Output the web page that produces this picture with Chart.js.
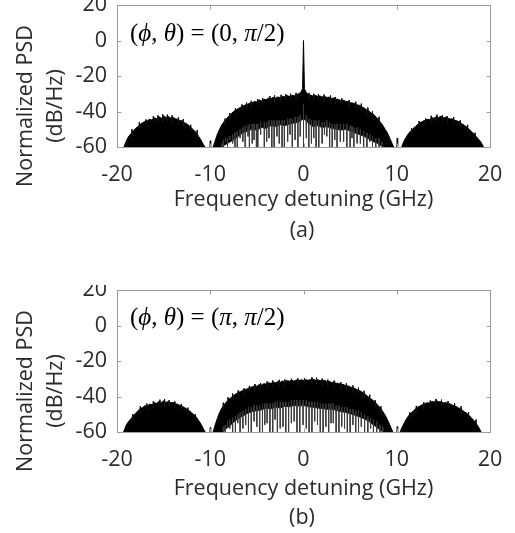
<!DOCTYPE html>
<html>
<head>
<meta charset="utf-8">
<script src="https://cdn.jsdelivr.net/npm/chart.js@4.4.0/dist/chart.umd.min.js"></script>
<style>
    html, body { margin: 0; padding: 0; background: #fff; overflow: hidden; }
    .panel { position: absolute; left: 0; width: 515px; }
    #wrapA { top: 0; height: 260px; }
    #wrapB { top: 285px; height: 260px; }
</style>
</head>
<body>
<div class="panel" id="wrapA"><canvas id="chartA" width="515" height="260"></canvas></div>
<div class="panel" id="wrapB"><canvas id="chartB" width="515" height="260"></canvas></div>
<script>
// axis ticks
const xTicks = [-20, -10, 0, 10, 20];
const yTicks = [-60, -40, -20, 0, 20];

// panel (a): upper envelope of the PSD (GHz, dB/Hz)
const freqA = [
    -19.5, -19.25, -19, -18.75, -18.5, -18.25, -18, -17.75, -17.5, -17.25,
    -17, -16.75, -16.5, -16.25, -16, -15.75, -15.5, -15.25, -15, -14.75,
    -14.5, -14.25, -14, -13.75, -13.5, -13.25, -13, -12.75, -12.5, -12.25,
    -12, -11.75, -11.5, -11.25, -11, -10.75, -10.5, -10.25, -10.05, -10,
    -9.95, -9.75, -9.5, -9.25, -9, -8.75, -8.5, -8.25, -8, -7.75,
    -7.5, -7.25, -7, -6.75, -6.5, -6.25, -6, -5.75, -5.5, -5.25,
    -5, -4.75, -4.5, -4.25, -4, -3.75, -3.5, -3.25, -3, -2.75,
    -2.5, -2.25, -2, -1.75, -1.5, -1.25, -1, -0.75, -0.5, -0.25,
    -0.1, 0, 0.1, 0.25, 0.5, 0.75, 1, 1.25, 1.5, 1.75,
    2, 2.25, 2.5, 2.75, 3, 3.25, 3.5, 3.75, 4, 4.25,
    4.5, 4.75, 5, 5.25, 5.5, 5.75, 6, 6.25, 6.5, 6.75,
    7, 7.25, 7.5, 7.75, 8, 8.25, 8.5, 8.75, 9, 9.25,
    9.5, 9.75, 10, 10.05, 10.1, 10.5, 10.75, 11, 11.25, 11.5,
    11.75, 12, 12.25, 12.5, 12.75, 13, 13.25, 13.5, 13.75, 14,
    14.25, 14.5, 14.75, 15, 15.25, 15.5, 15.75, 16, 16.25, 16.5,
    16.75, 17, 17.25, 17.5, 17.75, 18, 18.25, 18.5, 18.75, 19,
    19.25, 19.5
];
const psdA = [
    -62, -60, -56.5, -54, -52.5, -51, -49.5, -48.5, -47.2, -46.3,
    -45.6, -45.2, -44.4, -44.8, -43.6, -44, -43, -43.8, -42.5, -43.4,
    -42.8, -43.6, -43.2, -44.1, -44.3, -45.1, -45.3, -46.3, -47, -48,
    -49.4, -50.6, -52, -54, -56, -58.5, -60.5, -62, -62, -56.5,
    -62, -61, -57, -53, -50, -47.5, -45.6, -44, -42.6, -41.2,
    -40, -39.2, -38.4, -37.6, -37, -36.3, -36, -35.2, -35, -34.4,
    -34.6, -33.6, -33.9, -33, -33.4, -32.4, -32.8, -32, -32.5, -31.8,
    -32.2, -31.4, -31.8, -31, -31.6, -30.8, -31.2, -30.5, -30, -29,
    -27, 0, -27, -29, -30.4, -30.8, -31.2, -30.9, -31.5, -31.2,
    -31.8, -31.4, -32.1, -31.9, -32.6, -32.4, -33, -33.2, -33.8, -33.6,
    -34.2, -34.4, -35, -35.2, -35.5, -36.3, -36.5, -37.4, -38, -39,
    -39.6, -40.8, -41.5, -43, -44.5, -46, -47.8, -50, -52, -55,
    -58, -61, -62, -55, -62, -60.5, -57, -54.5, -52.5, -51,
    -49.6, -48.5, -47.3, -46.4, -45.6, -45, -44.4, -44.6, -43.5, -43.8,
    -42.8, -43.4, -42.6, -43.5, -43.2, -43.8, -44.2, -44.2, -45, -45.4,
    -46, -47, -47.8, -48.8, -50, -51.2, -52.5, -54, -55.5, -57,
    -59.5, -62
];
// panel (a): narrow noise peaks poking above the envelope
const peakFreqA = [
    -18.4, -17.6, -16.9, -16.1, -15.6, -15.1, -14.6, -14.1, -13.4, -12.9, -12.1, -11.4,
    -8.4, -7.9, -7.3, -6.6, -6.1, -5.6, -4.9, -4.4, -3.6, -3.1, -2.4, -1.9, -1.4, -0.8,
    0.6, 1.1, 1.6, 2.2, 2.9, 3.4, 4.1, 4.9, 5.6, 6.2, 6.9, 7.4, 8.1,
    11.6, 12.4, 13.1, 13.7, 14.3, 14.9, 15.4, 16.1, 16.8, 17.6, 18.4
];
const peakA = [
    -50, -46, -44.5, -42.6, -42.2, -41.6, -41.8, -42.2, -43.3, -44.4, -47.5, -50.5,
    -44, -41, -38.2, -36, -35, -34, -33, -32.4, -31.4, -31, -30.6, -30.2, -30, -29.5,
    -29.5, -30, -30.3, -30.5, -31, -31.8, -32.6, -33.6, -34.5, -35.6, -37.8, -39.8, -43,
    -49.5, -45.4, -44, -42.4, -41.8, -42, -42.6, -43.2, -45, -47.5, -52
];
// panel (a): lower edge of the dense part under the main lobe
const holeFreqA = [-8.9, -8.5, -8, -7.5, -7, -6.5, -6, -5.5, -5, -4.5, -4, -3.5, -3, -2.5, -2, -1.5, -1, -0.5, 0,
    0.5, 1, 1.5, 2, 2.5, 3, 3.5, 4, 4.5, 5, 5.5, 6, 6.5, 7, 7.5, 8, 8.5, 8.8];
const holeA = [-62, -59, -57.5, -56, -54, -52, -51, -50, -50.5, -49, -49.5, -48, -48.5, -47.5, -48, -47, -46.5, -46, -44,
    -46.5, -48.5, -48, -49, -48.5, -49.5, -50, -50.5, -50, -51, -52, -53, -54, -55.5, -57, -58, -60, -62];
// panel (a): deep notches reaching into the white area
const spikeFreqA = [
    -8.75, -8.6, -8.35, -8.15, -7.9, -7.6, -7.35, -7.1, -6.8, -6.5,
    -6.25, -5.95, -5.8, -5.5, -5.3, -5.05, -4.9, -4.6, -4.2, -3.95,
    -3.7, -3.4, -3.15, -2.85, -2.6, -2.3, -2.05, -1.7, -1.45, -1.2,
    -0.9, -0.6, -0.35, 0, 0.3, 0.57, 0.85, 1.1, 1.35, 1.64,
    2.0, 2.25, 2.5, 2.8, 3.08, 3.35, 3.6, 3.95, 4.3, 4.65,
    5.0, 5.2, 5.4, 5.75, 6.1, 6.45, 6.8, 7.1, 7.4, 7.75,
    8.1, 8.4
];
const spikeLowA = [
    -61, -61, -57, -61, -56, -58, -61, -61, -55, -57,
    -61, -54, -61, -58, -56, -61, -61, -53, -61, -57,
    -55, -61, -61, -54, -58, -61, -61, -57, -53, -61,
    -56, -61, -54, -61, -55, -61, -58, -55, -61, -61,
    -58, -53, -54, -61, -61, -56, -61, -57, -57, -61,
    -61, -55, -61, -58, -58, -61, -61, -57, -61, -61,
    -61, -59
];
const spikeTopA = [
    -58, -56, -55, -55, -54, -53, -52, -51, -50, -49,
    -48, -48, -47, -47, -47, -47, -47, -46, -46, -46,
    -45, -45, -45, -45, -45, -45, -45, -44, -44, -44,
    -43, -43, -42, -36, -42, -44, -45, -45, -45, -45,
    -46, -46, -45, -46, -47, -47, -47, -47, -47, -47,
    -48, -48, -49, -49, -50, -51, -52, -53, -54, -55,
    -55, -57
];

// panel (b): upper envelope of the PSD
const freqB = [
    -19.5, -19.25, -19, -18.75, -18.5, -18.25, -18, -17.75, -17.5, -17.25,
    -17, -16.75, -16.5, -16.25, -16, -15.75, -15.5, -15.25, -15, -14.75,
    -14.5, -14.25, -14, -13.75, -13.5, -13.25, -13, -12.75, -12.5, -12.25,
    -12, -11.75, -11.5, -11.25, -11, -10.75, -10.5, -10.25, -10.05, -10,
    -9.95, -9.75, -9.5, -9.25, -9, -8.75, -8.5, -8.25, -8, -7.75,
    -7.5, -7.25, -7, -6.75, -6.5, -6.25, -6, -5.75, -5.5, -5.25,
    -5, -4.75, -4.5, -4.25, -4, -3.75, -3.5, -3.25, -3, -2.75,
    -2.5, -2.25, -2, -1.75, -1.5, -1.25, -1, -0.75, -0.5, -0.25,
    0, 0.25, 0.5, 0.75, 1, 1.25, 1.5, 1.75, 2, 2.25,
    2.5, 2.75, 3, 3.25, 3.5, 3.75, 4, 4.25, 4.5, 4.75,
    5, 5.25, 5.5, 5.75, 6, 6.25, 6.5, 6.75, 7, 7.25,
    7.5, 7.75, 8, 8.25, 8.5, 8.75, 9, 9.25, 9.5, 9.75,
    10, 10.05, 10.1, 10.35, 10.5, 10.75, 11, 11.25, 11.5, 11.75,
    12, 12.25, 12.5, 12.75, 13, 13.25, 13.5, 13.75, 14, 14.25,
    14.5, 14.75, 15, 15.25, 15.5, 15.75, 16, 16.25, 16.5, 16.75,
    17, 17.25, 17.5, 17.75, 18, 18.25, 18.5, 18.75, 19, 19.25
];
const psdB = [
    -62, -59.5, -56, -54, -52.6, -50.8, -49.4, -48, -46.8, -46.2,
    -45.2, -45.4, -44.3, -44.6, -43.5, -43.9, -42.8, -43.5, -42.4, -43.3,
    -42.9, -43.4, -43.4, -44, -44.4, -45, -45.6, -46.2, -47.2, -48,
    -49.2, -50.2, -51.6, -53.5, -55.5, -58, -60.5, -62, -62, -57.5,
    -62, -61, -56.5, -52.5, -49, -46.5, -44.5, -43, -41.6, -40.5,
    -39.4, -38.6, -37.8, -37.2, -36.6, -36, -35.6, -34.9, -34.6, -34,
    -34.2, -33.3, -33.5, -32.8, -33, -32.3, -32.6, -32, -32.3, -31.6,
    -32, -31.3, -31.7, -31, -31.4, -30.9, -31.3, -30.7, -31.1, -30.6,
    -31, -30.5, -30.9, -30.4, -30.2, -30.8, -30.5, -31, -31.2, -30.9,
    -31.6, -31.4, -32.1, -31.9, -32.5, -32.6, -33.2, -33.2, -33.8, -34,
    -34.6, -35, -35.4, -36.2, -36.6, -37.4, -38.3, -39.3, -40.4, -41.4,
    -42.3, -43.6, -45, -46.6, -48.4, -50.5, -53, -56, -59, -62,
    -62, -57, -62, -60.5, -58, -55.5, -53, -51, -49.5, -48.3,
    -47, -45.9, -45.4, -44.5, -44.2, -43.5, -43.7, -42.8, -43.1, -42.4,
    -42.9, -43, -43.6, -43.4, -44, -44.2, -44.9, -45.3, -46, -46.8,
    -47.6, -48.6, -49.4, -50.6, -52, -53.4, -55, -57, -59.5, -62
];
const peakFreqB = [
    -18.3, -17.5, -16.8, -16.1, -15.4, -14.9, -14.4, -13.8, -13.1, -12.4, -11.6,
    -8.6, -8.1, -7.6, -7.0, -6.4, -5.8, -5.2, -4.6, -3.9, -3.3, -2.6, -2.0, -1.3, -0.6,
    0.1, 0.9, 1.4, 2.0, 2.6, 3.3, 4.0, 4.6, 5.3, 5.9, 6.5, 7.1, 7.7, 8.3,
    11.4, 12.1, 12.9, 13.6, 14.2, 14.8, 15.5, 16.2, 16.9, 17.7, 18.5
];
const peakB = [
    -50, -45.5, -44, -42.6, -41.8, -41.5, -42, -42.8, -44.2, -46.3, -50,
    -43.5, -40.5, -38.3, -36.6, -35.4, -34, -33, -32.4, -31.5, -31, -30.6, -30.4, -30, -29.8,
    -29.7, -29.2, -29.4, -29.9, -30.5, -31, -31.9, -32.6, -33.8, -35, -36.8, -39, -42, -45.5,
    -49, -45.3, -43.2, -42.3, -41.4, -41.8, -42.6, -43.8, -45.5, -48.8, -53
];
const holeFreqB = [-8.8, -8.5, -8, -7.5, -7, -6.5, -6, -5.5, -5, -4.5, -4, -3.5, -3, -2.5, -2, -1.5, -1, -0.5, 0,
    0.5, 1, 1.5, 2, 2.5, 3, 3.5, 4, 4.5, 5, 5.5, 6, 6.5, 7, 7.5, 8, 8.5, 8.8];
const holeB = [-62, -59, -57, -54.5, -52.5, -51, -49.5, -48.5, -48, -47.5, -46.5, -47, -46, -46.5, -45.5, -45.8, -45, -45.4, -45,
    -45.8, -46, -46.5, -46.8, -47.2, -47, -47.8, -48.5, -49, -49.6, -50.5, -51.5, -52.5, -54, -56, -58, -60, -62];
const spikeFreqB = [
    -8.6, -8.4, -8.15, -7.9, -7.6, -7.3, -7.05, -6.8, -6.5, -6.2,
    -5.9, -5.6, -5.3, -5.0, -4.7, -4.4, -4.15, -3.9, -3.6, -3.3,
    -3.05, -2.8, -2.5, -2.2, -1.9, -1.6, -1.3, -1.0, -0.7, -0.4,
    -0.05, 0.3, 0.6, 0.9, 1.2, 1.5, 1.8, 2.1, 2.4, 2.7,
    2.95, 3.2, 3.5, 3.8, 4.1, 4.4, 4.7, 5.0, 5.3, 5.6,
    5.9, 6.2, 6.55, 6.9, 7.2, 7.5, 7.85, 8.2, 8.5
];
const spikeLowB = [
    -61, -61, -57, -58, -61, -61, -55, -61, -58, -56,
    -61, -61, -54, -57, -61, -61, -56, -55, -61, -61,
    -53, -61, -58, -57, -61, -61, -55, -54, -61, -61,
    -56, -58, -61, -61, -54, -56, -61, -61, -57, -61,
    -55, -55, -61, -61, -57, -58, -61, -61, -56, -61,
    -61, -57, -61, -61, -58, -61, -61, -60, -61
];
const spikeTopB = [
    -57, -56, -54, -53, -52, -51, -50, -49, -48, -47,
    -46, -46, -45, -45, -45, -44, -44, -44, -44, -44,
    -43, -43, -43, -43, -43, -43, -42, -42, -42, -42,
    -42, -42, -43, -43, -43, -43, -44, -44, -44, -44,
    -44, -44, -45, -45, -46, -46, -46, -47, -47, -48,
    -48, -49, -50, -51, -52, -53, -54, -56, -57
];

const textColor = "#2b2b2b";
const frameColor = "#9c9c9c";
const fontSize = 21.5;
const sansFont = "'Open Sans', 'Noto Sans', sans-serif";
const serifFont = "'Liberation Serif', 'DejaVu Serif', serif";

function toPoints(xs, ys) {
    return xs.map((x, i) => ({ x: x, y: ys[i] }));
}

// vertical strokes from one level to another, broken by nulls
function strokePoints(xs, from, to) {
    let pts = [];
    xs.forEach((x, i) => {
        pts.push({ x: x, y: from[i] }, { x: x, y: to[i] }, { x: x, y: null });
    });
    return pts;
}

// box round the plot area with inward ticks on all four sides
const framePlugin = {
    id: "frame",
    afterDatasetsDraw(chart) {
        const { ctx, chartArea: a, scales: { x, y } } = chart;
        const L = Math.round(a.left) + 0.5, R = Math.round(a.right) + 0.5;
        const T = Math.round(a.top) + 0.5, B = Math.round(a.bottom) + 0.5;
        ctx.save();
        ctx.strokeStyle = frameColor;
        ctx.lineWidth = 1;
        ctx.strokeRect(L, T, R - L, B - T);
        ctx.beginPath();
        xTicks.forEach(v => {
            const px = Math.round(x.getPixelForValue(v)) + 0.5;
            ctx.moveTo(px, B); ctx.lineTo(px, B - 4);
            ctx.moveTo(px, T); ctx.lineTo(px, T + 4);
        });
        yTicks.forEach(v => {
            const py = Math.round(y.getPixelForValue(v)) + 0.5;
            ctx.moveTo(L, py); ctx.lineTo(L + 4, py);
            ctx.moveTo(R, py); ctx.lineTo(R - 4, py);
        });
        ctx.stroke();
        ctx.restore();
    }
};

// y title, panel tag and the (phi, theta) note
const textPlugin = {
    id: "texts",
    afterDraw(chart, args, opts) {
        const ctx = chart.ctx;
        ctx.save();
        ctx.fillStyle = textColor;
        ctx.textAlign = "center";
        ctx.textBaseline = "middle";
        ctx.font = fontSize + "px " + sansFont;
        ctx.translate(26, 106);
        ctx.rotate(-Math.PI / 2);
        ctx.fillText("Normalized PSD", 0, 0);
        ctx.fillText("(dB/Hz)", 0, 30);
        ctx.restore();

        ctx.save();
        ctx.fillStyle = textColor;
        ctx.textAlign = "center";
        ctx.textBaseline = "middle";
        ctx.font = fontSize + "px " + sansFont;
        ctx.fillText(opts.tag, 302, opts.tagY);
        ctx.restore();

        ctx.save();
        ctx.fillStyle = "#000";
        ctx.textBaseline = "alphabetic";
        let xPos = 130;
        opts.note.forEach(([str, italic]) => {
            ctx.font = (italic ? "italic " : "") + "25px " + serifFont;
            ctx.fillText(str, xPos, opts.noteY);
            xPos += ctx.measureText(str).width;
        });
        ctx.restore();
    }
};

function makeChart(id, cfg) {
    const ctx = document.getElementById(id).getContext("2d");
    return new Chart(ctx, {
        type: "line",
        data: {
            datasets: [
                {
                    data: toPoints(cfg.freq, cfg.psd),
                    borderColor: "#000",
                    backgroundColor: "#000",
                    borderWidth: 1,
                    pointRadius: 0,
                    fill: "start",
                    order: 4
                },
                {
                    // short stubs: the stub foot sits inside the black fill
                    data: strokePoints(cfg.peakFreq, cfg.peak, cfg.peak.map(v => v - 4)),
                    borderColor: "#111",
                    borderWidth: 1,
                    pointRadius: 0,
                    spanGaps: false,
                    fill: false,
                    order: 3
                },
                {
                    data: toPoints(cfg.holeFreq, cfg.hole),
                    borderColor: "#1a1a1a",
                    backgroundColor: "#fff",
                    borderWidth: 1,
                    pointRadius: 0,
                    fill: "start",
                    order: 2
                },
                {
                    data: strokePoints(cfg.spikeFreq, cfg.spikeTop, cfg.spikeLow),
                    borderColor: "#3a3a3a",
                    borderWidth: 1,
                    pointRadius: 0,
                    spanGaps: false,
                    fill: false,
                    order: 1
                }
            ]
        },
        options: {
            responsive: false,
            animation: false,
            layout: { padding: { top: 5, right: 25, left: 0, bottom: 0 } },
            plugins: {
                legend: { display: false },
                tooltip: { enabled: false },
                texts: { tag: cfg.tag, tagY: cfg.tagY, note: cfg.note, noteY: cfg.noteY }
            },
            scales: {
                x: {
                    type: "linear",
                    min: -20,
                    max: 20,
                    offset: false,
                    afterBuildTicks: s => { s.ticks = xTicks.map(v => ({ value: v })); },
                    afterFit: s => { s.height = 113; s.paddingLeft = 0; s.paddingRight = 0; },
                    ticks: { color: textColor, font: { family: sansFont, size: fontSize }, padding: 15, maxRotation: 0, autoSkip: false },
                    grid: { display: false, drawTicks: false },
                    border: { display: false },
                    title: {
                        display: true,
                        text: "Frequency detuning (GHz)",
                        color: textColor,
                        font: { family: sansFont, size: fontSize },
                        padding: { top: 0, bottom: cfg.titlePad }
                    }
                },
                y: {
                    type: "linear",
                    min: -60,
                    max: 20,
                    afterBuildTicks: s => { s.ticks = yTicks.map(v => ({ value: v })); },
                    afterFit: s => { s.width = 117; s.paddingTop = 0; s.paddingBottom = 0; },
                    ticks: { color: textColor, font: { family: sansFont, size: fontSize }, padding: 10 },
                    grid: { display: false, drawTicks: false },
                    border: { display: false }
                }
            }
        },
        plugins: [framePlugin, textPlugin]
    });
}

makeChart("chartA", {
    freq: freqA, psd: psdA,
    peakFreq: peakFreqA, peak: peakA,
    holeFreq: holeFreqA, hole: holeA,
    spikeFreq: spikeFreqA, spikeLow: spikeLowA, spikeTop: spikeTopA,
    tag: "(a)", tagY: 231, titlePad: 47,
    note: [["(", false], ["\u03d5", true], [", ", false], ["\u03b8", true], [") = (0, ", false], ["\u03c0", true], ["/2)", false]],
    noteY: 41
});

makeChart("chartB", {
    freq: freqB, psd: psdB,
    peakFreq: peakFreqB, peak: peakB,
    holeFreq: holeFreqB, hole: holeB,
    spikeFreq: spikeFreqB, spikeLow: spikeLowB, spikeTop: spikeTopB,
    tag: "(b)", tagY: 233, titlePad: 43,
    note: [["(", false], ["\u03d5", true], [", ", false], ["\u03b8", true], [") = (", false], ["\u03c0", true], [", ", false], ["\u03c0", true], ["/2)", false]],
    noteY: 40
});
</script>
</body>
</html>
